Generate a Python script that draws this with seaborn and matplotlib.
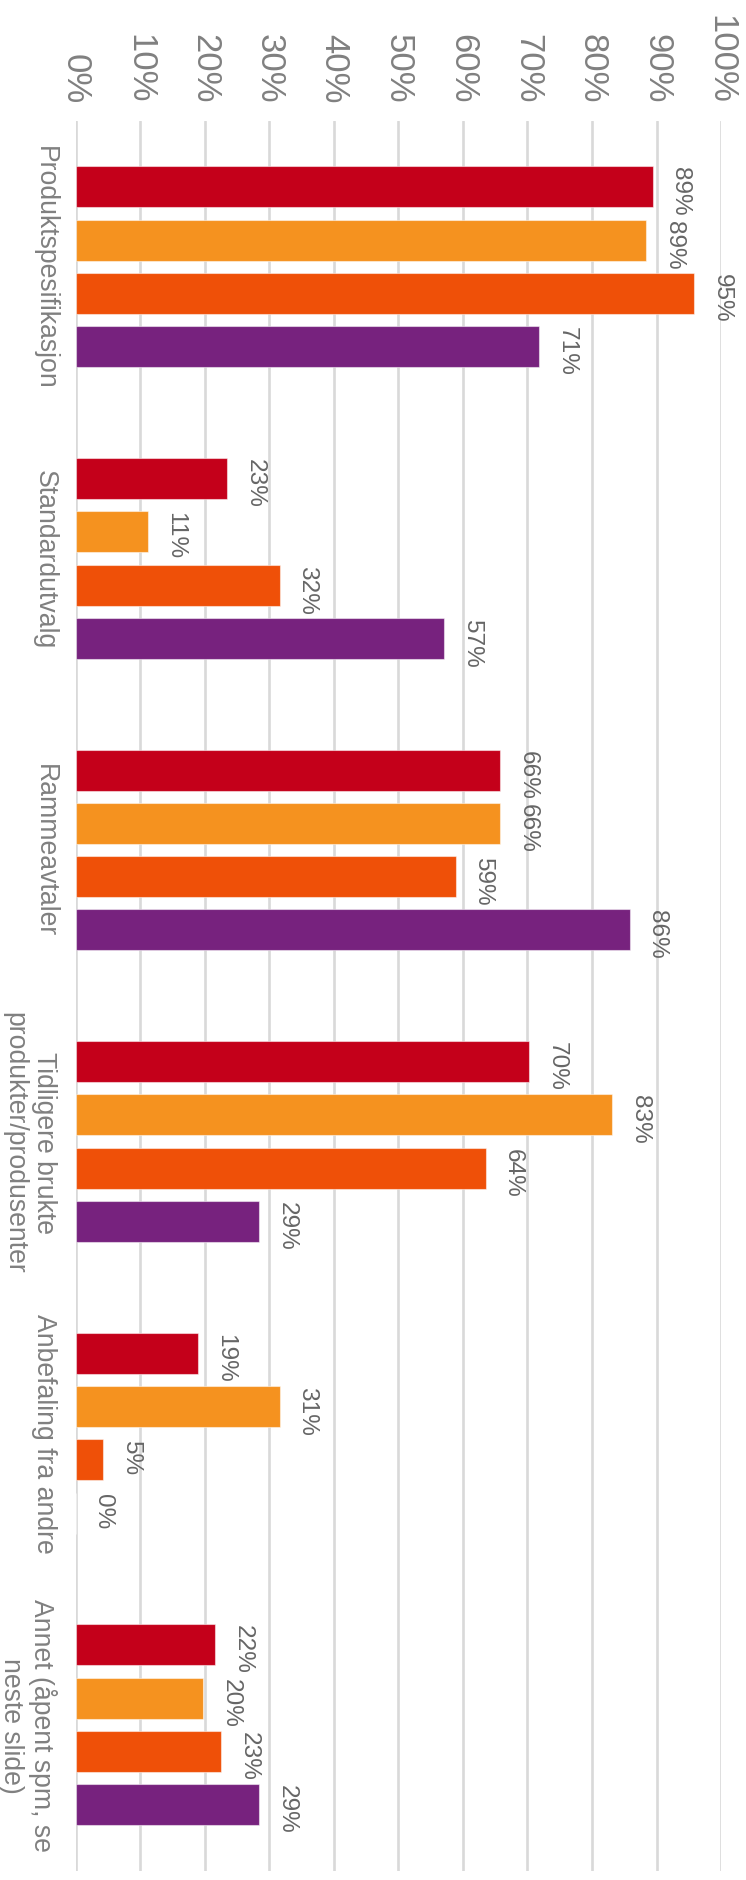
import pandas as pd
import matplotlib
matplotlib.use("Agg")
import matplotlib.pyplot as plt
import seaborn as sns

categories = [
    "Produktspesifikasjon",
    "Standardutvalg",
    "Rammeavtaler",
    "Tidligere brukte\nprodukter/produsenter",
    "Anbefaling fra andre",
    "Annet (åpent spm, se\nneste slide)",
]
series = ["Serie 1", "Serie 2", "Serie 3", "Serie 4"]
colors = ["#C4001A", "#F5921F", "#EF5008", "#77227E"]

# values per series, one entry per category (percent)
serie_1 = [89.4, 23.5, 65.8, 70.3, 18.9, 21.6]
serie_2 = [88.4, 11.2, 65.8, 83.1, 31.6, 19.8]
serie_3 = [95.8, 31.6, 58.9, 63.5, 4.3, 22.5]
serie_4 = [71.8, 57.1, 85.8, 28.4, 0.0, 28.4]

# printed labels
labels_1 = ["89%", "23%", "66%", "70%", "19%", "22%"]
labels_2 = ["89%", "11%", "66%", "83%", "31%", "20%"]
labels_3 = ["95%", "32%", "59%", "64%", "5%", "23%"]
labels_4 = ["71%", "57%", "86%", "29%", "0%", "29%"]

xticks = [0, 10, 20, 30, 40, 50, 60, 70, 80, 90, 100]

rows = []
for name, vals in zip(series, [serie_1, serie_2, serie_3, serie_4]):
    for cat, v in zip(categories, vals):
        rows.append({"kategori": cat, "serie": name, "verdi": v})
df = pd.DataFrame(rows)

sns.set_style("white")
font = ["Liberation Sans Narrow", "Liberation Sans", "DejaVu Sans"]
plt.rcParams["font.family"] = font

fig = plt.figure(figsize=(7.46, 18.81), dpi=100)
ax = fig.add_axes([75.5 / 746, 9.4 / 1881, 645.7 / 746, 1749.6 / 1881])

sns.barplot(data=df, x="verdi", y="kategori", hue="serie", order=categories,
            hue_order=series, palette=colors, orient="h", width=0.731, gap=0.231,
            legend=False, saturation=1, linewidth=0.8, edgecolor="#ffffff80", ax=ax)

ax.set_xlim(0, 100)
ax.set_xticks(xticks)
ax.set_xticklabels([f"{t}%" for t in xticks])
ax.xaxis.tick_top()
ax.tick_params(axis="x", length=0, pad=13, labelsize=24.9, labelcolor="#808080",
               labelrotation=-90)
ax.tick_params(axis="y", length=0, pad=13, labelsize=19.2, labelcolor="#808080")
for lab in ax.get_yticklabels():
    lab.set_rotation(-90)
    lab.set_va("center")
    lab.set_ha("right")
    lab.set_multialignment("center")
    lab.set_family(["Liberation Sans", "DejaVu Sans"])

ax.grid(axis="x", color="#D9D9D9", linewidth=1.9)
ax.set_axisbelow(True)
for s in ax.spines.values():
    s.set_visible(False)
ax.set_xlabel("")
ax.set_ylabel("")

all_labels = [labels_1, labels_2, labels_3, labels_4]
for cont, labs in zip(ax.containers, all_labels):
    for patch, txt in zip(cont.patches, labs):
        ax.annotate(txt, xy=(patch.get_width(), patch.get_y()), xytext=(12, 0),
                    textcoords="offset points", ha="left", va="top", rotation=-90,
                    fontsize=17.6, color="#666666")

fig.savefig("out.png", dpi=100)
